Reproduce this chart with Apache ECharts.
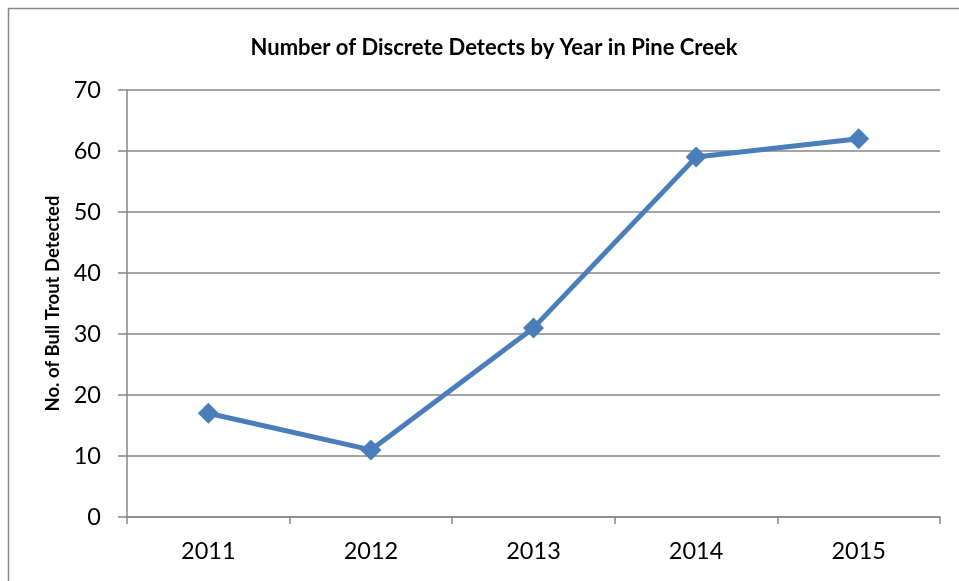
<!DOCTYPE html>
<html><head><meta charset="utf-8">
<script src="https://cdn.jsdelivr.net/npm/echarts@6/dist/echarts.min.js"></script>
<style>html,body{margin:0;padding:0;background:#fff}#c{width:959px;height:581px}</style>
</head><body><div id="c"></div>
<script>
var categories = ['2011','2012','2013','2014','2015'];
var detects = [17, 11, 31, 59, 62];
var yTicks = {min: 0, max: 70, interval: 10};

var chart = echarts.init(document.getElementById('c'), null, {renderer: 'canvas'});
var font = 'Lato, "Open Sans", sans-serif';
chart.setOption({
  animation: false,
  backgroundColor: '#fff',
  graphic: [{type: 'rect', shape: {x: 8.5, y: 8.5, width: 1000, height: 1000}, style: {fill: 'none', stroke: '#878787', lineWidth: 1.5}, silent: true}],
  title: {text: 'Number of Discrete Detects by Year in Pine Creek', left: 489, top: 32, textAlign: 'center',
    textStyle: {fontFamily: font, fontWeight: 'bold', fontSize: 22, color: '#000'}},
  grid: {left: 127, right: 19, top: 90, bottom: 64, containLabel: false},
  xAxis: {type: 'category', data: categories, boundaryGap: true,
    axisLine: {lineStyle: {color: '#868686', width: 1.5}},
    axisTick: {show: true, length: 7, inside: false, lineStyle: {color: '#868686', width: 1.5}},
    axisLabel: {fontFamily: font, fontSize: 23.5, color: '#000', margin: 22}},
  yAxis: {type: 'value', min: yTicks.min, max: yTicks.max, interval: yTicks.interval,
    name: 'No. of Bull Trout Detected', nameLocation: 'middle', nameGap: 59, nameRotate: 90,
    nameTextStyle: {fontFamily: font, fontWeight: 'bold', fontSize: 18.5, color: '#000'},
    axisLine: {show: true, lineStyle: {color: '#868686', width: 1.5}},
    axisTick: {show: true, length: 9, lineStyle: {color: '#868686', width: 1.5}},
    splitLine: {lineStyle: {color: '#868686', width: 1.5}},
    axisLabel: {fontFamily: font, fontSize: 23.5, color: '#000', margin: 26}},
  series: [{type: 'line', data: detects, symbol: 'diamond', symbolSize: 21,
    lineStyle: {color: '#4A7EBB', width: 5}, itemStyle: {color: '#4A7EBB'}}]
});
</script></body></html>
